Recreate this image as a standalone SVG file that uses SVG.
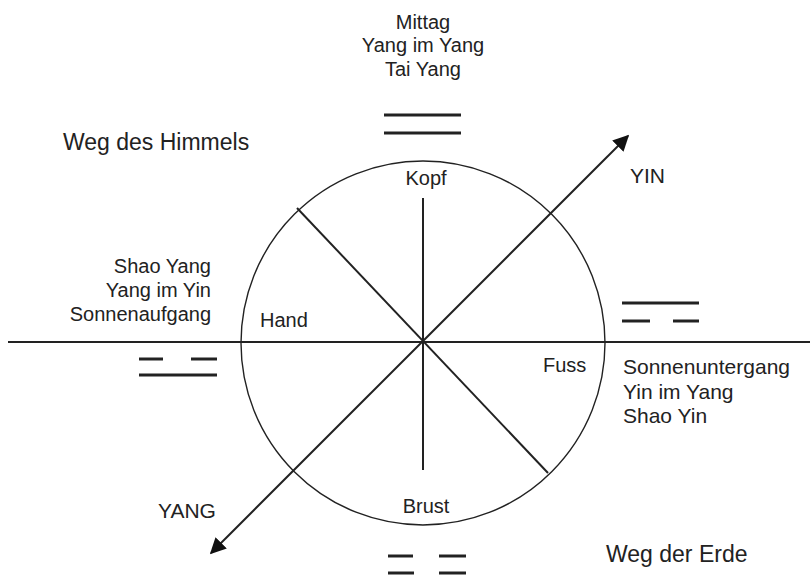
<svg xmlns="http://www.w3.org/2000/svg" width="810" height="584" viewBox="0 0 810 584">
<defs>
<style>
.t{font-family:"Liberation Sans",Arial,sans-serif;font-size:20px;fill:#222}
.ax{stroke:#222;stroke-width:2;fill:none}
.bg{stroke:#222;stroke-width:3;fill:none}
</style>
<marker id="ah" viewBox="0 0 10 10" refX="9" refY="5" markerWidth="16" markerHeight="16" markerUnits="userSpaceOnUse" orient="auto-start-reverse">
<path d="M0,0 L10,5 L0,10 Z" fill="#111"/>
</marker>
</defs>
<rect width="810" height="584" fill="#fff"/>
<g id="connectors">
<circle cx="423" cy="343" r="182" fill="none" stroke="#222" stroke-width="1.4"/>
<line class="ax" x1="8" y1="342" x2="810" y2="342"/>
<line class="ax" x1="423" y1="198" x2="423" y2="470"/>
<line class="ax" x1="297" y1="208" x2="548" y2="473"/>
<line class="ax" x1="211" y1="553" x2="628" y2="136" marker-start="url(#ah)" marker-end="url(#ah)"/>
</g>
<g id="top">
<text class="t" x="423" y="29" text-anchor="middle">Mittag</text>
<text class="t" x="423" y="52" text-anchor="middle">Yang im Yang</text>
<text class="t" x="423" y="76" text-anchor="middle">Tai Yang</text>
<line class="bg" x1="384" y1="115" x2="461" y2="115"/>
<line class="bg" x1="384" y1="133" x2="461" y2="133"/>
</g>
<g id="himmel"><text class="t" x="63" y="150" style="font-size:23px">Weg des Himmels</text></g>
<g id="yin"><text class="t" x="630" y="183" style="font-size:21px">YIN</text></g>
<g id="kopf"><text class="t" x="426" y="185" text-anchor="middle">Kopf</text></g>
<g id="left">
<text class="t" x="211" y="273" text-anchor="end">Shao Yang</text>
<text class="t" x="211" y="297" text-anchor="end">Yang im Yin</text>
<text class="t" x="211" y="321" text-anchor="end">Sonnenaufgang</text>
<line class="bg" x1="139" y1="359" x2="163" y2="359"/>
<line class="bg" x1="191" y1="359" x2="217" y2="359"/>
<line class="bg" x1="139" y1="375" x2="217" y2="375"/>
</g>
<g id="hand"><text class="t" x="260" y="327">Hand</text></g>
<g id="right">
<line class="bg" x1="622" y1="303" x2="699" y2="303"/>
<line class="bg" x1="622" y1="321" x2="650" y2="321"/>
<line class="bg" x1="673" y1="321" x2="699" y2="321"/>
<text class="t" x="623" y="374" style="font-size:21px">Sonnenuntergang</text>
<text class="t" x="623" y="399" style="font-size:21px">Yin im Yang</text>
<text class="t" x="623" y="423" style="font-size:21px">Shao Yin</text>
</g>
<g id="fuss"><text class="t" x="543" y="372">Fuss</text></g>
<g id="yang"><text class="t" x="158" y="518" style="font-size:21px">YANG</text></g>
<g id="brust"><text class="t" x="426" y="513" text-anchor="middle">Brust</text></g>
<g id="bottom">
<line class="bg" x1="388" y1="556" x2="413" y2="556"/>
<line class="bg" x1="439" y1="556" x2="466" y2="556"/>
<line class="bg" x1="388" y1="573" x2="414" y2="573"/>
<line class="bg" x1="439" y1="573" x2="466" y2="573"/>
</g>
<g id="erde"><text class="t" x="606" y="562" style="font-size:23px">Weg der Erde</text></g>
</svg>
